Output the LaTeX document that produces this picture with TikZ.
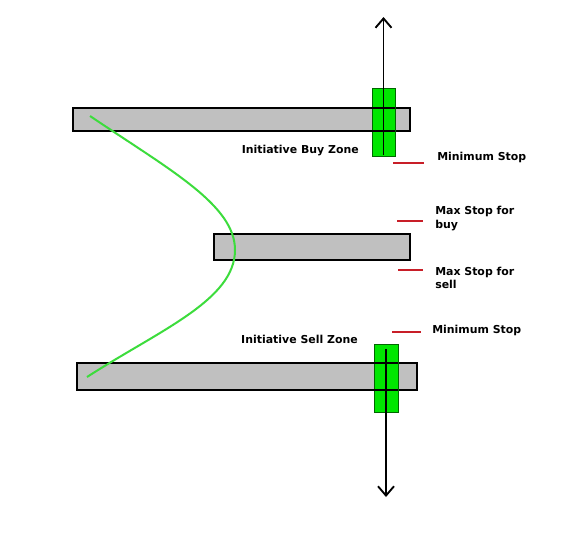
\documentclass[tikz,border=0pt]{standalone}
\usepackage{fontspec}
\setmainfont{DejaVu Sans}
\usetikzlibrary{arrows.meta}
\begin{document}
\begin{tikzpicture}[x=0.75pt,y=-0.75pt,
  bar/.style={draw=black,line width=1.8pt,fill=barGray,inner sep=0pt,outer sep=0pt,anchor=north west},
  candle/.style={draw=green!40!black,line width=0.7pt,fill=candleGreen,inner sep=0pt,outer sep=0pt,anchor=north west},
  wick/.style={draw=black,line width=1.4pt},
  stopmark/.style={draw=stopRed,line width=1.8pt},
  lbl/.style={font=\bfseries\fontsize{8.2}{9.8}\selectfont,inner sep=0pt,align=left},
  curve/.style={draw=curveGreen,line width=1.5pt}]
\definecolor{barGray}{RGB}{192,192,192}
\definecolor{candleGreen}{RGB}{0,230,0}
\definecolor{stopRed}{RGB}{200,30,40}
\definecolor{curveGreen}{RGB}{60,220,60}
\useasboundingbox[fill=white] (0,0) rectangle (581,558);
% bars
\node[bar,minimum width=252.75pt,minimum height=17.25pt] (topbar) at (73,108) {};
\node[bar,minimum width=147pt,minimum height=19.5pt] (midbar) at (214,234) {};
\node[bar,minimum width=255pt,minimum height=20.25pt] (botbar) at (77,363) {};
% candles
\node[candle,minimum width=17.25pt,minimum height=51pt] (topcandle) at (372,88) {};
\node[candle,minimum width=18pt,minimum height=51pt] (botcandle) at (374,344) {};
% bar edges across candles
\draw[line width=1.6pt] (372,108) -- (395,108) (372,131) -- (395,131);
\draw[line width=1.6pt] (374,363) -- (398,363) (374,390) -- (398,390);
% wicks
\coordinate (uptip) at (383.5,17);
\coordinate (downtip) at (386,497);
\draw[wick,-{Straight Barb[length=7pt,width=12pt]}] (383.5,155) -- (uptip);
\draw[wick,-{Straight Barb[length=7pt,width=12pt]}] (386,349) -- (downtip);
% curve
\coordinate (cstart) at (90,116);
\coordinate (cmid) at (235,250);
\coordinate (cend) at (87,377);
\draw[curve] (cstart) .. controls (170,170) and (235,205) .. (cmid)
  .. controls (235,300) and (160,330) .. (cend);
% labels
\node[lbl,anchor=east] (buyzone) at (359,151) {Initiative Buy Zone};
\node[lbl,anchor=east] (sellzone) at (358,339) {Initiative Sell Zone};
% stops
\draw[stopmark] (393,163) -- (424,163);
\node[lbl,anchor=west] (minstop1) at (437,157) {Minimum Stop};
\draw[stopmark] (397,221) -- (423,221);
\node[lbl,anchor=west] (maxbuy) at (435,218.5) {Max Stop for\\buy};
\draw[stopmark] (398,270) -- (423,270);
\node[lbl,anchor=west] (maxsell) at (435,277.5) {Max Stop for\\sell};
\draw[stopmark] (392,332) -- (421,332);
\node[lbl,anchor=west] (minstop2) at (432,330) {Minimum Stop};
\end{tikzpicture}
\end{document}
